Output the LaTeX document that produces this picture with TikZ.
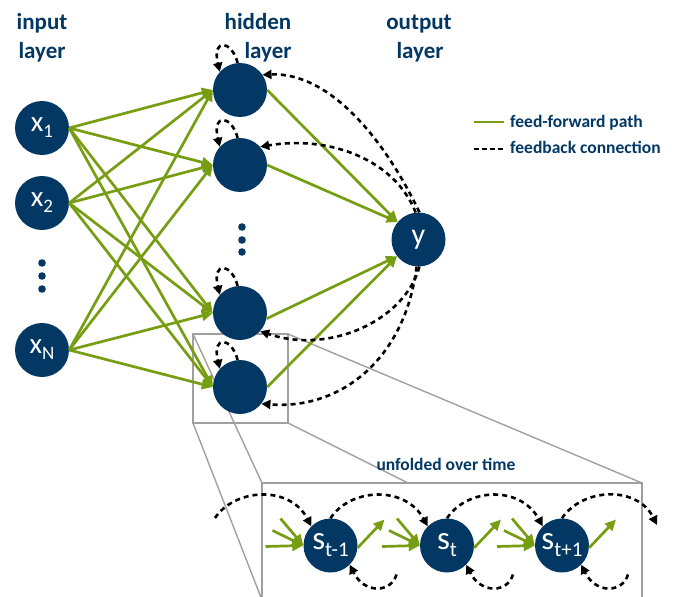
\documentclass[tikz,border=0pt]{standalone}
\usepackage{fontspec}
\setmainfont{Carlito}
\usetikzlibrary{arrows.meta}

\definecolor{navy}{RGB}{2,56,99}
\definecolor{ffgreen}{RGB}{119,158,18}
\definecolor{framegray}{RGB}{160,160,160}

% node captions: main letter with a lowered index
\newcommand{\xlab}[1]{\fontsize{29}{29}\selectfont x\raisebox{-6pt}{\fontsize{19}{19}\selectfont #1}}
\newcommand{\slab}[1]{\fontsize{33}{33}\selectfont s\raisebox{-7pt}{\fontsize{21}{21}\selectfont #1}}

\begin{document}
\begin{tikzpicture}[x=1pt,y=-1pt,
  unit/.style={circle, fill=navy, minimum size=54pt, inner sep=0pt, text=white},
  ff/.style={draw=ffgreen, line width=2.7pt, -{Triangle[length=11pt,width=10pt]}},
  fb/.style={draw=black, line width=2.6pt, dash pattern=on 5pt off 4pt, -{Triangle[length=9pt,width=9pt]}},
  ffline/.style={draw=ffgreen, line width=2.7pt},
  fbline/.style={draw=black, line width=2.6pt, dash pattern=on 5pt off 3pt},
  frame/.style={draw=framegray, line width=1.4pt},
  layerlabel/.style={text=navy, font=\fontsize{23}{23}\selectfont\bfseries, anchor=base, inner sep=0pt},
  smalllabel/.style={text=navy, font=\fontsize{17.5}{17.5}\selectfont\bfseries, inner sep=0pt},
  dot/.style={fill=navy}
]
\useasboundingbox (0,0) rectangle (678,597);
\clip (0,0) rectangle (678,597);

% ---------- zoom frame (drawn first, stays behind) ----------
\coordinate (zTL) at (193,334);
\coordinate (zTR) at (288,334);
\coordinate (zBL) at (193,423);
\coordinate (zBR) at (288,423);
\coordinate (bTL) at (262,483);
\coordinate (bTR) at (642,483);
\coordinate (bBL) at (262,600);
\coordinate (bBR) at (642,600);
\draw[frame] (zTL) -- (bTL);
\draw[frame] (zTR) -- (bTR);
\draw[frame] (zBL) -- (bBL);
\draw[frame] (zBR) -- (bBR);
\draw[frame] (zTL) rectangle (zBR);
\draw[frame, fill=white] (bTL) rectangle (bBR);

% ---------- labels ----------
\node[layerlabel] (inA) at (42,30) {input};
\node[layerlabel] (inB) at (42,58) {layer};
\node[layerlabel] (hidA) at (258,30) {hidden};
\node[layerlabel] (hidB) at (268,58) {layer};
\node[layerlabel] (outA) at (419,30) {output};
\node[layerlabel] (outB) at (420,58) {layer};
\node[smalllabel, anchor=base] (unf) at (446,470) {unfolded over time};

% ---------- legend ----------
\coordinate (lgA) at (474,122);
\coordinate (lgB) at (504,122);
\coordinate (lgC) at (474,149);
\coordinate (lgD) at (503,149);
\draw[ffline] (lgA) -- (lgB);
\draw[fbline] (lgC) -- (lgD);
\node[smalllabel, anchor=base west] (lgT1) at (510,127) {feed-forward path};
\node[smalllabel, anchor=base west] (lgT2) at (510,153) {feedback connection};

% ---------- units ----------
\node[unit] (x1) at (42,128) {\xlab{1}};
\node[unit] (x2) at (42,203) {\xlab{2}};
\node[unit] (xN) at (42,350) {\xlab{N}};
\node[unit] (h1) at (240,90) {};
\node[unit] (h2) at (240,165) {};
\node[unit] (h3) at (240,313) {};
\node[unit] (h4) at (240,387) {};
\node[unit] (y) at (418.5,239.5) {\fontsize{30}{30}\selectfont y};

\node[unit] (s1) at (330.5,545.5) {\slab{t-1}};
\node[unit] (s2) at (447,545.5) {\slab{t}};
\node[unit] (s3) at (562,545.5) {\slab{t+1}};

% vertical ellipses
\foreach \py in {263,276,289} \fill[dot] (42,\py) circle (3.8);
\foreach \py in {227,240,252} \fill[dot] (242,\py) circle (3.8);

% ---------- feed-forward paths ----------
\foreach \i in {x1,x2,xN}
  \foreach \h in {h1,h2,h3,h4}
    \draw[ff] (\i.east) -- (\h.west);
\draw[ff] (h1.east) -- (y.140);
\draw[ff] (h2.east) -- (y.140);
\draw[ff] (h3.-12) -- (y.218);
\draw[ff] (h4.east) -- (y.218);

% ---------- feedback connections ----------
\draw[fb] (y.88) .. controls (385,140) and (330,72) .. (h1.34);
\draw[fb] (y.96) .. controls (395,160) and (330,135) .. (h2.42);
\draw[fb] (y.-88) .. controls (405,320) and (330,355) .. (h3.-42);
\draw[fb] (y.-94) .. controls (405,360) and (340,410) .. (h4.-38);
\foreach \h in {h1,h2,h3,h4}
  \draw[fb] (\h.95) .. controls +(-6,-23) and +(-8,-34) .. (\h.138);

% ---------- unfolded chain ----------
\foreach \s in {s1,s2,s3} {
  \draw[ff] ([shift={(-65,1)}]\s.center) -- (\s.west);
  \draw[ff] ([shift={(-58,-15)}]\s.center) -- (\s.west);
  \draw[ff] ([shift={(-50,-27)}]\s.center) -- (\s.west);
  \draw[ff] (\s.-5) -- ([shift={(54,-26)}]\s.center);
  \draw[fb] ([shift={(66,29)}]\s.center) .. controls +(-5,18) and +(15,30) .. (\s.-45);
}
\coordinate (chainIn) at (215,518);
\coordinate (chainOut) at (657,525);
\draw[fb] (chainIn) .. controls (235,488) and (290,485) .. (s1.135);
\draw[fb] (s1.north) .. controls (350,488) and (405,485) .. (s2.135);
\draw[fb] (s2.north) .. controls (467,488) and (520,485) .. (s3.135);
\draw[fb] (s3.north) .. controls (582,488) and (637,485) .. (chainOut);
\end{tikzpicture}
\end{document}
